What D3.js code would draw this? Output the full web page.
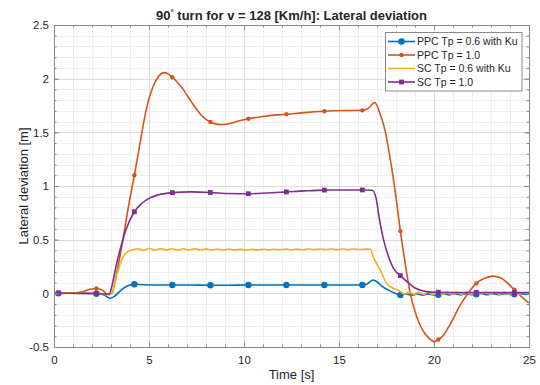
<!DOCTYPE html>
<html>
<head>
<meta charset="utf-8">
<script src="https://cdn.jsdelivr.net/npm/d3@7"></script>
<style>
  body { margin: 0; background: #fff; }
  svg text { font-family: "Liberation Sans", Arial, Helvetica, sans-serif; fill: #262626; }
</style>
</head>
<body>
<svg id="chart" width="540" height="385"></svg>
<script>
// data: [time s, lateral deviation m]
const markTimes = [0.23, 2.23, 4.23, 6.23, 8.23, 10.23, 12.23, 14.23, 16.23, 18.23, 20.23, 22.23, 24.23];

const ppc06 = [[0,0],[0.23,0],[1.2,0.002],[2.23,-0.004],[2.6,-0.012],[2.95,-0.047],[3.2,-0.025],[3.5,0.025],[3.85,0.068],[4.23,0.085],[4.7,0.08],[5.3,0.077],[6.23,0.078],[7.2,0.077],[8.23,0.075],[9.2,0.076],[10.23,0.077],[11.2,0.077],[12.23,0.077],[13.2,0.077],[14.23,0.077],[15.2,0.077],[16.23,0.077],[16.5,0.09],[16.8,0.124],[17.0,0.108],[17.2,0.075],[17.6,0.03],[17.95,0.0],[18.23,-0.016],[18.5,-0.004],[18.8,-0.018],[19.1,-0.006],[19.4,-0.017],[19.7,-0.005],[20.0,-0.016],[20.23,-0.013],[20.5,-0.004],[20.8,-0.015],[21.1,-0.004],[21.4,-0.014],[21.7,-0.004],[22.0,-0.013],[22.23,-0.008],[22.5,-0.003],[22.8,-0.013],[23.1,-0.004],[23.4,-0.012],[23.7,-0.003],[24.0,-0.011],[24.23,-0.008],[24.5,-0.003],[24.8,-0.01],[25,-0.006]];

const ppc10 = [[0,0],[0.23,0],[1.0,0.003],[1.5,0.015],[1.9,0.038],[2.23,0.045],[2.55,0.03],[2.85,-0.012],[3.05,0.0],[3.3,0.19],[3.6,0.47],[3.9,0.79],[4.23,1.10],[4.53,1.40],[4.84,1.70],[5.2,1.92],[5.5,2.02],[5.8,2.056],[6.0,2.045],[6.23,2.013],[6.5,1.965],[6.8,1.9],[7.1,1.82],[7.4,1.74],[7.7,1.67],[8.0,1.62],[8.23,1.596],[8.7,1.572],[9.2,1.58],[9.7,1.605],[10.23,1.627],[11.0,1.648],[11.6,1.66],[12.23,1.668],[13.2,1.684],[14.23,1.696],[15.2,1.703],[16.23,1.705],[16.55,1.725],[16.88,1.778],[17.15,1.68],[17.42,1.52],[17.68,1.27],[17.95,0.96],[18.23,0.58],[18.5,0.26],[18.75,0.0],[19.0,-0.17],[19.25,-0.29],[19.5,-0.37],[19.75,-0.42],[20.0,-0.45],[20.23,-0.43],[20.5,-0.39],[20.75,-0.32],[21.0,-0.24],[21.25,-0.15],[21.5,-0.075],[21.75,-0.01],[22.0,0.05],[22.23,0.093],[22.6,0.135],[23.1,0.16],[23.5,0.145],[23.9,0.09],[24.23,0.033],[24.6,-0.03],[25,-0.09]];

const sc06 = [[0,0],[1.0,0.003],[2.0,0.0],[2.5,-0.008],[2.85,-0.012],[3.05,0.0],[3.3,0.17],[3.56,0.31],[3.82,0.38],[4.15,0.405],[4.4,0.415],[4.7,0.4],[5.0,0.418],[5.3,0.402],[5.6,0.417],[5.9,0.403],[6.2,0.416],[6.5,0.403],[6.8,0.415],[7.1,0.404],[7.4,0.415],[7.7,0.404],[8.0,0.414],[8.3,0.404],[8.6,0.413],[8.9,0.403],[9.2,0.412],[9.5,0.403],[9.8,0.411],[10.1,0.403],[10.4,0.41],[10.7,0.404],[11.0,0.411],[11.3,0.405],[11.6,0.411],[11.9,0.405],[12.2,0.412],[12.5,0.406],[12.8,0.412],[13.1,0.406],[13.4,0.413],[13.7,0.407],[14.0,0.413],[14.3,0.407],[14.6,0.413],[14.9,0.407],[15.2,0.413],[15.5,0.408],[15.8,0.413],[16.1,0.408],[16.4,0.412],[16.65,0.41],[16.8,0.34],[17.07,0.25],[17.25,0.186],[17.5,0.095],[17.86,0.047],[18.2,0.02],[18.45,-0.008],[18.7,0.012],[18.95,-0.01],[19.2,0.012],[19.45,-0.01],[19.7,0.011],[19.95,-0.01],[20.2,0.011],[20.45,-0.009],[20.7,0.011],[20.95,-0.009],[21.2,0.01],[21.45,-0.009],[21.7,0.01],[21.95,-0.008],[22.2,0.01],[22.45,-0.008],[22.7,0.01],[22.95,-0.008],[23.2,0.009],[23.45,-0.007],[23.7,0.009],[23.95,-0.007],[24.2,0.009],[24.45,-0.007],[24.7,0.008],[25,-0.004]];

const sc10 = [[0,0],[0.23,0.003],[1.2,0.0],[2.23,-0.002],[2.7,-0.006],[2.92,-0.004],[3.05,0.07],[3.25,0.24],[3.5,0.42],[3.8,0.6],[4.23,0.76],[4.6,0.835],[5.0,0.885],[5.5,0.918],[6.23,0.938],[7.2,0.945],[8.23,0.94],[9.2,0.93],[10.23,0.928],[11.2,0.935],[12.23,0.945],[13.2,0.955],[14.23,0.962],[15.2,0.963],[16.23,0.963],[16.75,0.96],[16.96,0.88],[17.1,0.72],[17.33,0.51],[17.6,0.345],[17.86,0.235],[18.23,0.165],[18.74,0.085],[19.0,0.05],[19.3,0.028],[19.6,0.016],[20.23,0.01],[21.2,0.008],[22.23,0.008],[23.2,0.007],[24.23,0.007],[25,0.007]];

const seriesNames = ["PPC Tp = 0.6 with Ku", "PPC Tp = 1.0", "SC Tp = 0.6 with Ku", "SC Tp = 1.0"];
const seriesColors = ["#0072BD", "#D95319", "#EDB120", "#7E2F8E"];
const seriesMarkers = ["circle", "dot", "none", "square"];
const seriesData = [ppc06, ppc10, sc06, sc10];

const xTicks = [0, 5, 10, 15, 20, 25];
const yTicks = [-0.5, 0, 0.5, 1, 1.5, 2, 2.5];

const svg = d3.select("#chart");
const x = d3.scaleLinear().domain([0, 25]).range([54, 529]);
const y = d3.scaleLinear().domain([-0.5, 2.5]).range([347, 25]);
const x0 = 54, x1 = 529, y0 = 347, y1 = 25;

// grid (minor then major)
const grid = svg.append("g");
grid.selectAll(".mx").data(d3.range(0, 25.001, 1)).enter().append("line")
    .attr("x1", d => Math.round(x(d)) + 0.5).attr("x2", d => Math.round(x(d)) + 0.5)
    .attr("y1", y1).attr("y2", y0).attr("stroke", "#eeeeee");
grid.selectAll(".my").data(d3.range(-5, 25.001, 1).map(d => d / 10)).enter().append("line")
    .attr("y1", d => Math.round(y(d)) + 0.5).attr("y2", d => Math.round(y(d)) + 0.5)
    .attr("x1", x0).attr("x2", x1).attr("stroke", "#eeeeee");
grid.selectAll(".gx").data(xTicks).enter().append("line")
    .attr("x1", d => Math.round(x(d)) + 0.5).attr("x2", d => Math.round(x(d)) + 0.5)
    .attr("y1", y1).attr("y2", y0).attr("stroke", "#dcdcdc");
grid.selectAll(".gy").data(yTicks).enter().append("line")
    .attr("y1", d => Math.round(y(d)) + 0.5).attr("y2", d => Math.round(y(d)) + 0.5)
    .attr("x1", x0).attr("x2", x1).attr("stroke", "#dcdcdc");

// series
svg.append("clipPath").attr("id", "clip").append("rect")
    .attr("x", x0).attr("y", y1).attr("width", x1 - x0).attr("height", y0 - y1);

const line = d3.line().x(d => x(d[0])).y(d => y(d[1])).curve(d3.curveMonotoneX);
const plot = svg.append("g").attr("clip-path", "url(#clip)");

function drawMarker(g, kind, color, cx, cy) {
    if (kind === "circle") {
        g.append("circle").attr("cx", cx).attr("cy", cy).attr("r", 3.2).attr("fill", color);
    } else if (kind === "dot") {
        g.append("circle").attr("cx", cx).attr("cy", cy).attr("r", 2.2).attr("fill", color);
    } else if (kind === "square") {
        g.append("rect").attr("x", cx - 2.4).attr("y", cy - 2.4).attr("width", 4.8).attr("height", 4.8).attr("fill", color);
    }
}

seriesData.forEach((data, i) => {
    const g = plot.append("g");
    g.append("path").datum(data).attr("d", line)
        .attr("fill", "none").attr("stroke", seriesColors[i]).attr("stroke-width", 1.6);
    if (seriesMarkers[i] !== "none") {
        data.filter(d => markTimes.includes(d[0])).forEach(d => {
            drawMarker(g, seriesMarkers[i], seriesColors[i], x(d[0]), y(d[1]));
        });
    }
});

// axes, ticks pointing inward on all four sides
const axisColor = "#8a8a8a";
function styleAxis(g) {
    g.selectAll("path.domain").attr("stroke", axisColor);
    g.selectAll(".tick line").attr("stroke", axisColor);
    g.selectAll("text").attr("font-size", "11.5px").attr("font-family", null).attr("fill", "#262626");
    g.attr("font-family", null).attr("font-size", null);
}

const fmt = d => String(d);
svg.append("g").attr("transform", `translate(0,${y0})`)
    .call(d3.axisBottom(x).tickValues(d3.range(0, 25.001, 1)).tickSize(-2.5).tickFormat(""))
    .call(styleAxis);
svg.append("g").attr("transform", `translate(0,${y0})`)
    .call(d3.axisBottom(x).tickValues(xTicks).tickSize(-5).tickSizeOuter(0).tickPadding(9).tickFormat(fmt))
    .call(styleAxis);
svg.append("g").attr("transform", `translate(0,${y1})`)
    .call(d3.axisTop(x).tickValues(d3.range(0, 25.001, 1)).tickSize(-2.5).tickFormat(""))
    .call(styleAxis);
svg.append("g").attr("transform", `translate(0,${y1})`)
    .call(d3.axisTop(x).tickValues(xTicks).tickSize(-5).tickSizeOuter(0).tickFormat(""))
    .call(styleAxis);
svg.append("g").attr("transform", `translate(${x0},0)`)
    .call(d3.axisLeft(y).tickValues(d3.range(-5, 25.001, 1).map(d => d / 10)).tickSize(-2.5).tickFormat(""))
    .call(styleAxis);
svg.append("g").attr("transform", `translate(${x0},0)`)
    .call(d3.axisLeft(y).tickValues(yTicks).tickSize(-5).tickSizeOuter(0).tickPadding(5).tickFormat(fmt))
    .call(styleAxis);
svg.append("g").attr("transform", `translate(${x1},0)`)
    .call(d3.axisRight(y).tickValues(d3.range(-5, 25.001, 1).map(d => d / 10)).tickSize(-2.5).tickFormat(""))
    .call(styleAxis);
svg.append("g").attr("transform", `translate(${x1},0)`)
    .call(d3.axisRight(y).tickValues(yTicks).tickSize(-5).tickSizeOuter(0).tickFormat(""))
    .call(styleAxis);

// title and labels
const title = svg.append("text").attr("x", (x0 + x1) / 2).attr("y", 20)
    .attr("text-anchor", "middle").attr("font-size", "13px").attr("font-weight", "bold");
title.append("tspan").text("90");
title.append("tspan").attr("font-size", "8px").attr("dy", "-5").text("°");
title.append("tspan").attr("dy", "5").text(" turn for v = 128 [Km/h]: Lateral deviation");

svg.append("text").attr("x", (x0 + x1) / 2).attr("y", 379)
    .attr("text-anchor", "middle").attr("font-size", "13px").text("Time [s]");
svg.append("text").attr("transform", `translate(28,${(y0 + y1) / 2}) rotate(-90)`)
    .attr("text-anchor", "middle").attr("font-size", "13px").text("Lateral deviation [m]");

// legend
const lg = svg.append("g");
lg.append("rect").attr("x", 385.5).attr("y", 32.5).attr("width", 136.5).attr("height", 58.5)
    .attr("fill", "#fff").attr("stroke", axisColor);
seriesNames.forEach((name, i) => {
    const ly = 41.5 + i * 13.5;
    lg.append("line").attr("x1", 388).attr("x2", 415).attr("y1", ly).attr("y2", ly)
        .attr("stroke", seriesColors[i]).attr("stroke-width", 1.6);
    drawMarker(lg, seriesMarkers[i], seriesColors[i], 401.5, ly);
    lg.append("text").attr("x", 417).attr("y", ly).attr("dy", "0.35em")
        .attr("font-size", "10.5px").text(name);
});
</script>
</body>
</html>
